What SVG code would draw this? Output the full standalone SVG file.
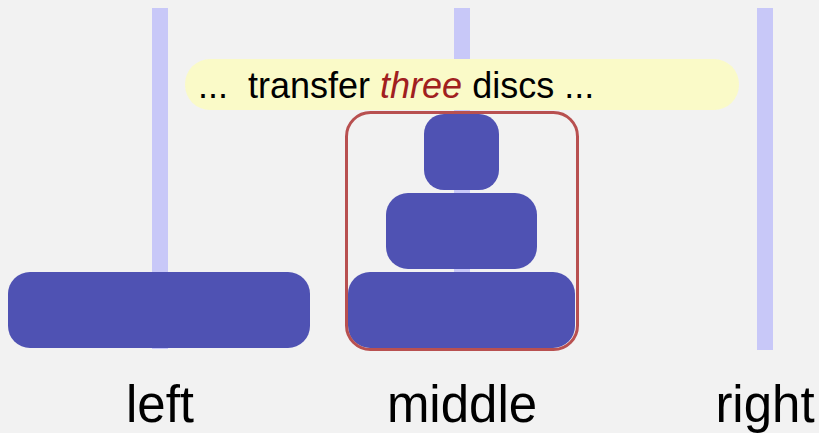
<svg xmlns="http://www.w3.org/2000/svg" width="819" height="433" viewBox="0 0 819 433">
<style>
.peg{fill:#c8c8f8}
.disc{fill:#4f52b3}
.lbl{font-family:"Liberation Sans",Arial,sans-serif;font-size:51px;fill:#000;text-anchor:middle}
</style>
<rect width="819" height="433" fill="#f2f2f2"/>
<g id="pegs">
<rect class="peg" x="152" y="8" width="16" height="341"/>
<rect class="peg" x="454" y="8" width="16" height="341"/>
<rect class="peg" x="757" y="8" width="16" height="342"/>
</g>
<g id="banner">
<rect x="185" y="59" width="554" height="51" rx="25" fill="#fafac8"/>
<text x="198" y="98" font-family="Liberation Sans,Arial,sans-serif" font-size="36" fill="#000" xml:space="preserve">...  transfer <tspan font-style="italic" fill="#a02020">three</tspan> discs ...</text>
</g>
<g id="left-disc">
<rect class="disc" x="8" y="272" width="302" height="76" rx="22"/>
</g>
<g id="middle-stack">
<rect class="disc" x="348" y="272" width="227" height="76" rx="22"/>
<rect class="disc" x="386" y="193" width="151" height="76" rx="22"/>
<rect class="disc" x="424" y="114" width="75" height="76" rx="20"/>
<rect x="346.5" y="112.5" width="231" height="237" rx="24" fill="none" stroke="#b85050" stroke-width="3"/>
</g>
<g id="labels">
<text class="lbl" x="160" y="422">left</text>
<text class="lbl" x="462" y="422">middle</text>
<text class="lbl" x="765" y="422">right</text>
</g>
</svg>
